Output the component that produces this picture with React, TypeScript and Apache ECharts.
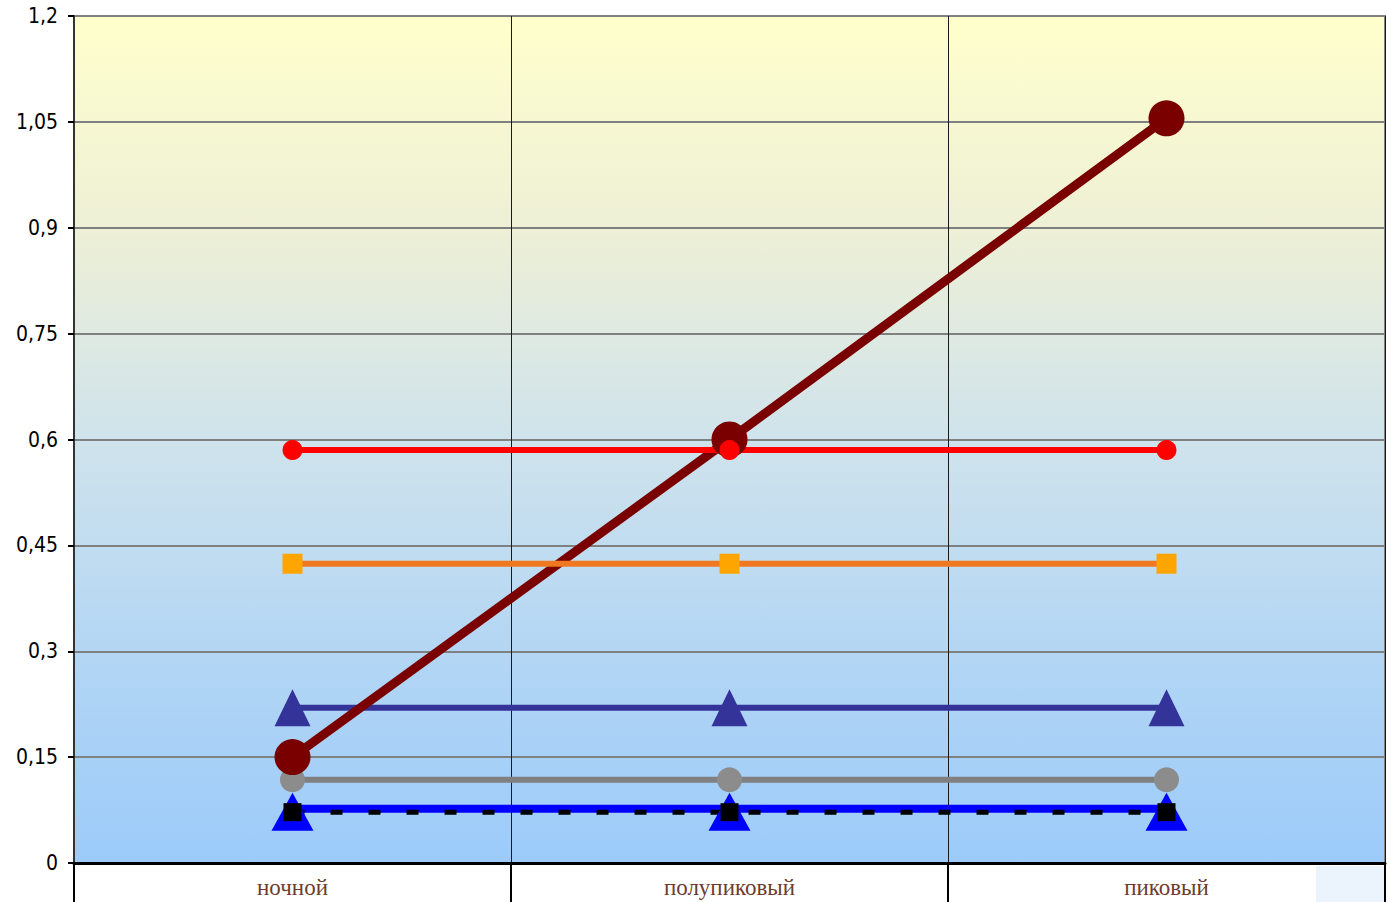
import React, { useEffect, useRef } from "react";
import * as echarts from "echarts";

const categories = ["ночной", "полупиковый", "пиковый"];
const maroonValues = [0.15, 0.6, 1.055];
const redValues = [0.585, 0.585, 0.585];
const orangeValues = [0.424, 0.424, 0.424];
const navyValues = [0.22, 0.22, 0.22];
const grayValues = [0.118, 0.118, 0.118];
const blueValues = [0.077, 0.077, 0.077];
const blackValues = [0.072, 0.072, 0.072];

export default function App() {
  const ref = useRef<HTMLDivElement>(null);
  useEffect(() => {
    if (!ref.current) return;
    const chart = echarts.init(ref.current, undefined, { renderer: "svg" });
    const fmt = (v: number) => parseFloat(v.toFixed(2)).toString().replace(".", ",");
    chart.setOption({
      animation: false,
      backgroundColor: "#ffffff",
      graphic: [
        {
          type: "rect",
          z: -1,
          shape: { x: 1316, y: 866, width: 68, height: 36 },
          style: { fill: "#EBF3FC" },
        },
      ],
      grid: {
        left: 74,
        right: 2,
        top: 16,
        bottom: 39,
        show: true,
        borderColor: "#7F8080",
        borderWidth: 2,
        backgroundColor: {
          type: "linear",
          x: 0,
          y: 0,
          x2: 0,
          y2: 1,
          colorStops: [
            { offset: 0, color: "#FFFFCC" },
            { offset: 0.25, color: "#EEF0D6" },
            { offset: 0.5, color: "#CFE3EC" },
            { offset: 0.75, color: "#B3D6F4" },
            { offset: 1, color: "#9CCBFA" },
          ],
        },
      },
      xAxis: {
        type: "category",
        data: categories,
        boundaryGap: true,
        axisLine: { show: true, lineStyle: { color: "#000", width: 3 } },
        axisTick: { show: true, length: 40, lineStyle: { color: "#000", width: 2 } },
        axisLabel: {
          color: "#6E3B2C",
          fontFamily: "Liberation Serif, DejaVu Serif, serif",
          fontSize: 23,
          margin: 13,
        },
        splitLine: { show: true, lineStyle: { color: "#1a1a1a", width: 1 } },
      },
      yAxis: {
        type: "value",
        min: 0,
        max: 1.2,
        interval: 0.15,
        axisLine: { show: true, lineStyle: { color: "#333", width: 2 } },
        axisTick: { show: true, length: 6, lineStyle: { color: "#000", width: 2 } },
        axisLabel: {
          color: "#000",
          fontFamily: "Liberation Sans Narrow, Arial Narrow, DejaVu Sans Condensed, sans-serif",
          fontSize: 21,
          margin: 16,
          formatter: fmt,
        },
        splitLine: { show: true, lineStyle: { color: "#7F8080", width: 2 } },
      },
      series: [
        {
          name: "navy",
          type: "line",
          data: navyValues,
          symbol: "triangle",
          symbolSize: [36, 37],
          lineStyle: { color: "#333399", width: 6 },
          itemStyle: { color: "#333399" },
        },
        {
          name: "blue",
          type: "line",
          data: blueValues,
          symbol: "triangle",
          symbolSize: [42, 38],
          symbolOffset: [0, 3],
          lineStyle: { color: "#0000FF", width: 8 },
          itemStyle: { color: "#0000FF" },
        },
        {
          name: "black",
          type: "line",
          data: blackValues,
          symbol: "rect",
          symbolSize: 18,
          lineStyle: { color: "#000", width: 5, type: [12, 26] },
          itemStyle: { color: "#000" },
        },
        {
          name: "gray",
          type: "line",
          data: grayValues,
          symbol: "circle",
          symbolSize: 25,
          lineStyle: { color: "#808080", width: 6 },
          itemStyle: { color: "#8C8C8C" },
        },
        {
          name: "maroon",
          type: "line",
          data: maroonValues,
          symbol: "circle",
          symbolSize: 36,
          lineStyle: { color: "#7A0000", width: 9 },
          itemStyle: { color: "#7A0000" },
        },
        {
          name: "orange",
          type: "line",
          data: orangeValues,
          symbol: "rect",
          symbolSize: 20,
          lineStyle: { color: "#F07820", width: 6 },
          itemStyle: { color: "#FFA500" },
        },
        {
          name: "red",
          type: "line",
          data: redValues,
          symbol: "circle",
          symbolSize: 20,
          lineStyle: { color: "#FF0000", width: 6 },
          itemStyle: { color: "#FF0000" },
        },
      ],
    });
    return () => chart.dispose();
  }, []);
  return (
    <div
      ref={ref}
      style={{ position: "fixed", left: 0, top: 0, width: 1387, height: 902 }}
    />
  );
}
